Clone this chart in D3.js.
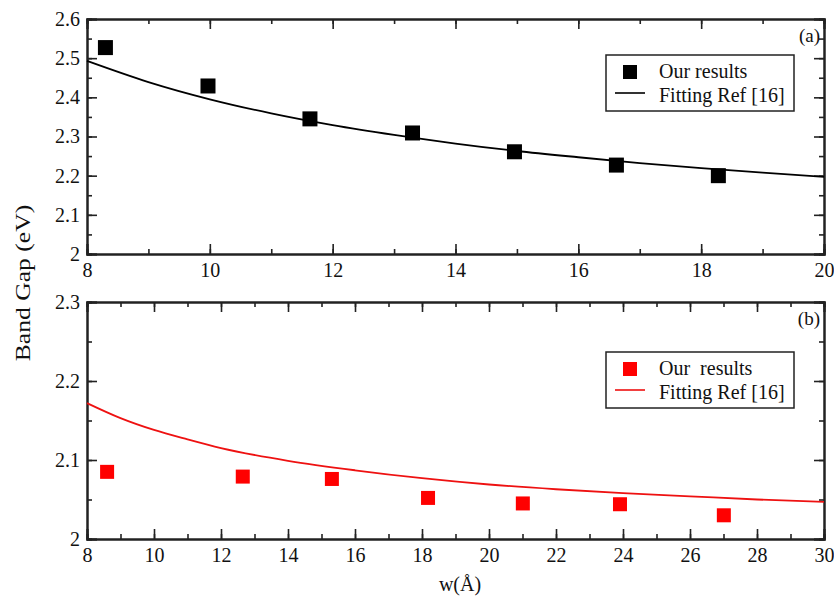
<!DOCTYPE html>
<html>
<head>
<meta charset="utf-8">
<script src="https://cdn.jsdelivr.net/npm/d3@7"></script>
<style>
  body { margin: 0; background: #fff; }
  text { font-family: "Liberation Serif", "Times New Roman", serif; fill: #111; }
</style>
</head>
<body>
<script>
// panel (a) data
const aX = [8.3, 9.97, 11.63, 13.3, 14.96, 16.62, 18.28];
const aY = [2.527, 2.429, 2.345, 2.309, 2.261, 2.227, 2.200];
// fitted curve
const aFitX = [8, 9, 10, 11, 12, 13, 14, 15, 16, 17, 18, 19, 20];
const aFitY = [2.493, 2.439, 2.395, 2.359, 2.329, 2.304, 2.282, 2.263, 2.247, 2.232, 2.219, 2.208, 2.197];

// panel (b) data
const bX = [8.6, 12.65, 15.31, 18.18, 21.01, 23.91, 27.01];
const bY = [2.085, 2.079, 2.076, 2.052, 2.045, 2.044, 2.030];
const bFitX = [8, 9, 10, 11, 12, 14, 16, 18, 20, 22, 24, 26, 28, 30];
const bFitY = [2.172, 2.153, 2.138, 2.126, 2.115, 2.099, 2.087, 2.077, 2.069, 2.063, 2.058, 2.054, 2.050, 2.047];

const aXTicks = [8, 10, 12, 14, 16, 18, 20];
const aYTicks = [2, 2.1, 2.2, 2.3, 2.4, 2.5, 2.6];
const bXTicks = [8, 10, 12, 14, 16, 18, 20, 22, 24, 26, 28, 30];
const bYTicks = [2, 2.1, 2.2, 2.3];

const W = 834, H = 598;
const svg = d3.select("body").append("svg")
    .attr("width", W)
    .attr("height", H);

function drawPanel(opt) {
    const x = d3.scaleLinear().domain(opt.xDomain).range([87, 824]);
    const y = d3.scaleLinear().domain(opt.yDomain).range([opt.bottom, opt.top]);
    const g = svg.append("g");

    const minorX = d3.range(opt.xDomain[0], opt.xDomain[1] + 0.001, 1);
    const minorY = d3.range(opt.yDomain[0], opt.yDomain[1] + 0.001, 0.05);

    const fmtY = d => d3.format("")(+d.toFixed(1));

    // minor ticks (all four sides, inward)
    g.append("g").attr("transform", `translate(0,${opt.bottom})`)
        .call(d3.axisBottom(x).tickValues(minorX).tickSize(-5).tickFormat(""));
    g.append("g").attr("transform", `translate(0,${opt.top})`)
        .call(d3.axisTop(x).tickValues(minorX).tickSize(-5).tickFormat(""));
    g.append("g").attr("transform", `translate(87,0)`)
        .call(d3.axisLeft(y).tickValues(minorY).tickSize(-5).tickFormat(""));
    g.append("g").attr("transform", `translate(824,0)`)
        .call(d3.axisRight(y).tickValues(minorY).tickSize(-5).tickFormat(""));

    // major ticks with labels
    g.append("g").attr("transform", `translate(0,${opt.bottom})`)
        .call(d3.axisBottom(x).tickValues(opt.xTicks).tickSize(-10).tickPadding(6).tickFormat(d3.format("d")))
        .selectAll("text").attr("dy", "0.85em");
    g.append("g").attr("transform", `translate(0,${opt.top})`)
        .call(d3.axisTop(x).tickValues(opt.xTicks).tickSize(-10).tickFormat(""));
    g.append("g").attr("transform", `translate(87,0)`)
        .call(d3.axisLeft(y).tickValues(opt.yTicks).tickSize(-10).tickPadding(7).tickFormat(fmtY));
    g.append("g").attr("transform", `translate(824,0)`)
        .call(d3.axisRight(y).tickValues(opt.yTicks).tickSize(-10).tickFormat(""));

    g.selectAll(".domain").attr("stroke", "#222").attr("stroke-width", 2);
    g.selectAll(".tick line").attr("stroke", "#222").attr("stroke-width", 1.6);
    g.selectAll(".tick text")
        .style("font-family", "Liberation Serif, serif")
        .style("font-size", "20px")
        .attr("fill", "#111");

    // fit curve
    const line = d3.line()
        .x((d, i) => x(opt.fitX[i]))
        .y(d => y(d))
        .curve(d3.curveMonotoneX);
    g.append("path")
        .datum(opt.fitY)
        .attr("fill", "none")
        .attr("stroke", opt.lineColor)
        .attr("stroke-width", 1.8)
        .attr("d", line);

    // squares
    const s = opt.size;
    g.selectAll("rect.pt")
        .data(opt.ptY)
        .enter().append("rect")
        .attr("class", "pt")
        .attr("x", (d, i) => x(opt.ptX[i]) - s / 2)
        .attr("y", d => y(d) - s / 2)
        .attr("width", s)
        .attr("height", s)
        .attr("fill", opt.color);

    // panel label
    g.append("text")
        .attr("x", 820).attr("y", opt.top + 23)
        .attr("text-anchor", "end")
        .style("font-size", "19px")
        .text(opt.label);

    // legend
    const lg = g.append("g").attr("transform", `translate(606,${opt.legTop})`);
    lg.append("rect")
        .attr("width", 188).attr("height", 56)
        .attr("fill", "#fff").attr("stroke", "#222").attr("stroke-width", 1.5);
    lg.append("rect")
        .attr("x", 24 - 7).attr("y", 17 - 7)
        .attr("width", 14).attr("height", 14)
        .attr("fill", opt.color);
    lg.append("line")
        .attr("x1", 9).attr("x2", 39).attr("y1", 38).attr("y2", 38)
        .attr("stroke", opt.lineColor).attr("stroke-width", 1.6);
    lg.append("text").attr("x", 53).attr("y", 23)
        .style("font-size", "20px").style("white-space", "pre")
        .attr("xml:space", "preserve")
        .text(opt.legText);
    lg.append("text").attr("x", 53).attr("y", 47)
        .style("font-size", "20px")
        .text("Fitting Ref [16]");
}

drawPanel({
    xDomain: [8, 20], yDomain: [2, 2.6], top: 19, bottom: 254,
    xTicks: aXTicks, yTicks: aYTicks,
    ptX: aX, ptY: aY, fitX: aFitX, fitY: aFitY,
    color: "#000", lineColor: "#000", size: 15,
    label: "(a)", legTop: 55, legText: "Our results"
});

drawPanel({
    xDomain: [8, 30], yDomain: [2, 2.3], top: 302, bottom: 539,
    xTicks: bXTicks, yTicks: bYTicks,
    ptX: bX, ptY: bY, fitX: bFitX, fitY: bFitY,
    color: "#ff0000", lineColor: "#ee1111", size: 14,
    label: "(b)", legTop: 352, legText: "Our  results"
});

// axis titles
svg.append("text")
    .attr("transform", "translate(30,283) rotate(-90) scale(1.22,1)")
    .attr("text-anchor", "middle")
    .style("font-size", "21px")
    .text("Band Gap (eV)");

svg.append("text")
    .attr("x", 460).attr("y", 591)
    .attr("text-anchor", "middle")
    .style("font-size", "20px")
    .text("w(Å)");
</script>
</body>
</html>
